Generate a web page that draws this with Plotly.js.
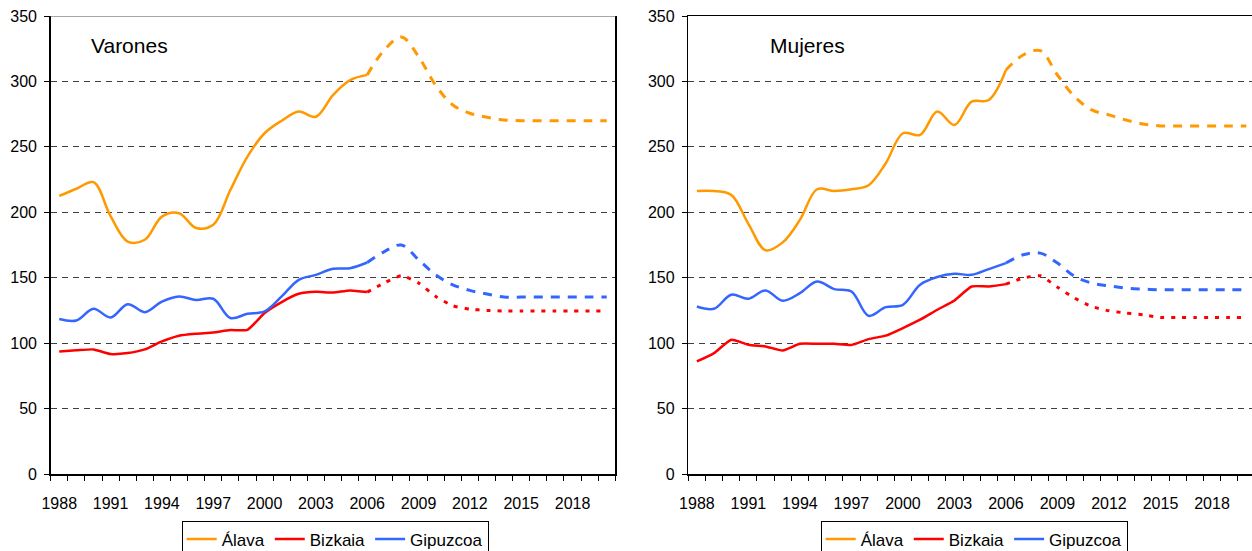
<!DOCTYPE html>
<html>
<head>
<meta charset="utf-8">
<script src="https://cdn.plot.ly/plotly-3.0.1.min.js"></script>
<style>html,body{margin:0;padding:0;background:#fff;}#chart{width:1252px;height:551px;}</style>
</head>
<body>
<div id="chart"></div>
<script>
// ---- data ----
const years = [1988,1989,1990,1991,1992,1993,1994,1995,1996,1997,1998,1999,2000,2001,2002,2003,2004,2005,2006,2007,2008,2009,2010,2011,2012,2013,2014,2015,2016,2017,2018,2019,2020];
const yearsObs = [1988,1989,1990,1991,1992,1993,1994,1995,1996,1997,1998,1999,2000,2001,2002,2003,2004,2005,2006];
const yearsProj = [2006,2007,2008,2009,2010,2011,2012,2013,2014,2015,2016,2017,2018,2019,2020];
const tickYears = [1988,1991,1994,1997,2000,2003,2006,2009,2012,2015,2018];
const seriesNames = ["Álava","Bizkaia","Gipuzcoa"];
const panelTitles = ["Varones","Mujeres"];

// Varones
const varAlavaObs = [212.5,218,223,197,177.6,179,196.7,199.3,188,190.4,217,242.5,260.4,270,277,273,289.6,301,305];
const varAlavaProj = [305,324,334,319,297,282,275.7,272.6,270.5,270,270,270,270,270,270];
const varBizkaiaObs = [93.7,94.5,95.2,91.7,92.4,95.2,101.3,105.7,107.2,108.2,110,110.2,123,131.4,137.7,139.2,138.7,140.3,139];
const varBizkaiaProj = [139,146,151.5,146,135.7,128.6,126,125,124.5,124.5,124.5,124.5,124.5,124.5,124.5];
const varGipuzcoaObs = [118.4,117.3,126.3,119.6,129.8,123.7,131.8,135.7,133,133.9,119.2,122.4,124.2,135.7,148.4,152.2,156.8,157.3,161.6];
const varGipuzcoaProj = [161.6,170,175,163.7,152.2,144.6,140.3,137.5,135.2,135.2,135.2,135.2,135.2,135.2,135.2];

// Mujeres
const mujAlavaObs = [216.3,216.3,213.3,191.2,171,177,194.2,217.6,216.3,217.6,220.7,237.5,260.4,259.1,277,266.7,284.5,285.8,308.7];
const mujAlavaProj = [308.7,320.2,323.5,304.9,288.3,278.2,274.4,270.5,267.5,266,266,266,266,266,266];
const mujBizkaiaObs = [86,92.4,102.6,98.8,97.5,94.4,99.5,99.5,99.5,98.6,103.1,105.7,111.5,117.9,125.5,132.6,143.3,143.3,145.1];
const mujBizkaiaProj = [145.1,149.7,151.5,142.8,134.4,128,124.7,123,121.7,119.6,119.6,119.6,119.6,119.6,119.6];
const mujGipuzcoaObs = [128,126.3,137,133.9,140.3,132.4,138.2,147.1,141.3,139.5,120.9,127.5,129.3,144.6,150.5,153,152.2,156.6,161.2];
const mujGipuzcoaProj = [161.2,167.5,168.8,161.2,151,145.9,143.8,142,141.3,140.8,140.8,140.8,140.8,140.8,140.8];

// ---- styling ----
const colors = ["#FF9900","#FF0000","#3366FF"];
const projDash = ["9px,8px","4px,7px","9px,8px"];
const smooth = [1, 0.5, 1];
const FONT = "Arial, 'Liberation Sans', sans-serif";

const panels = [
  {obs:[varAlavaObs,varBizkaiaObs,varGipuzcoaObs], proj:[varAlavaProj,varBizkaiaProj,varGipuzcoaProj], xa:'x', ya:'y', leg:'legend'},
  {obs:[mujAlavaObs,mujBizkaiaObs,mujGipuzcoaObs], proj:[mujAlavaProj,mujBizkaiaProj,mujGipuzcoaProj], xa:'x2', ya:'y2', leg:'legend2'}
];

const traces = [];
panels.forEach((p, pi) => {
  seriesNames.forEach((name, si) => {
    traces.push({
      x: yearsObs, y: p.obs[si], type:'scatter', mode:'lines', name: name,
      xaxis: p.xa, yaxis: p.ya, legend: p.leg, legendgroup: 'g'+pi+si,
      line: {color: colors[si], width: 2.5, shape:'spline', smoothing: smooth[si]},
      hoverinfo: 'x+y'
    });
  });
});
panels.forEach((p, pi) => {
  seriesNames.forEach((name, si) => {
    traces.push({
      x: yearsProj, y: p.proj[si], type:'scatter', mode:'lines', name: name,
      xaxis: p.xa, yaxis: p.ya, legend: p.leg, legendgroup: 'g'+pi+si, showlegend:false,
      line: {color: colors[si], width: 3, shape:'spline', smoothing: smooth[si], dash: projDash[si]},
      hoverinfo: 'x+y'
    });
  });
});

const W = 1252, H = 551;
const boundaries = years.map(y => y - 0.5).concat([years[years.length-1] + 0.5]);

function xAxis(domain, rangeEnd, mirror) {
  return {
    domain: domain, range: [years[0]-0.5, rangeEnd], showgrid:false, zeroline:false,
    showline:true, linecolor:'#000', linewidth:1.5, mirror: mirror,
    tickmode:'array', tickvals: tickYears, ticktext: tickYears.map(String), ticks:'',
    ticklabelstandoff: 14,
    tickfont:{family:FONT, size:16, color:'#000'},
    minor:{tickmode:'array', tickvals: boundaries, ticks:'outside', ticklen:5, tickwidth:1, tickcolor:'#000', showgrid:false}
  };
}
function yAxis(anchor, mirror) {
  return {
    anchor: anchor, range:[0,350], tickmode:'linear', tick0:0, dtick:50,
    showgrid:true, gridcolor:'#404040', gridwidth:1, griddash:'6px,5px',
    zeroline:false, showline:true, linecolor:'#000', linewidth:1.5, mirror: mirror,
    ticks:'outside', ticklen:5, tickcolor:'#000', ticklabelstandoff: 4,
    tickfont:{family:FONT, size:16, color:'#000'}
  };
}

const legendTop = 1 - 520.5/H;
const legendBase = {orientation:'h', xref:'container', yref:'container', xanchor:'left', y:legendTop, yanchor:'top',
  bordercolor:'#000', borderwidth:1, bgcolor:'#fff', font:{family:FONT, size:17, color:'#000'}, itemwidth:30};

const layout = {
  width: W, height: H,
  margin: {l:0, r:0, t:16, b:77},
  paper_bgcolor:'#fff', plot_bgcolor:'#fff',
  showlegend: true,
  xaxis: xAxis([50.7/W, 615.3/W], years[years.length-1]+0.5, false),
  yaxis: yAxis('x', true),
  xaxis2: Object.assign(xAxis([688.3/W, 1], years[0]-0.5 + (W-688.3)/17.17, true), {anchor:'y2'}),
  yaxis2: yAxis('x2', false),
  legend: Object.assign({}, legendBase, {x:181.7/W}),
  legend2: Object.assign({}, legendBase, {x:820.7/W}),
  shapes: [
    {type:'line', xref:'x domain', yref:'y', x0:0, x1:1, y0:350, y1:350, line:{color:'#888', width:1.5}}
  ],
  annotations: [
    {text: panelTitles[0], xref:'paper', yref:'paper', x:89/W, y:(474.4-46)/458.4, xanchor:'left', yanchor:'middle', showarrow:false, font:{family:FONT, size:21, color:'#000'}},
    {text: panelTitles[1], xref:'paper', yref:'paper', x:768/W, y:(474.4-46)/458.4, xanchor:'left', yanchor:'middle', showarrow:false, font:{family:FONT, size:21, color:'#000'}}
  ]
};
Plotly.newPlot('chart', traces, layout, {displayModeBar:false, staticPlot:true});
</script>
</body>
</html>
